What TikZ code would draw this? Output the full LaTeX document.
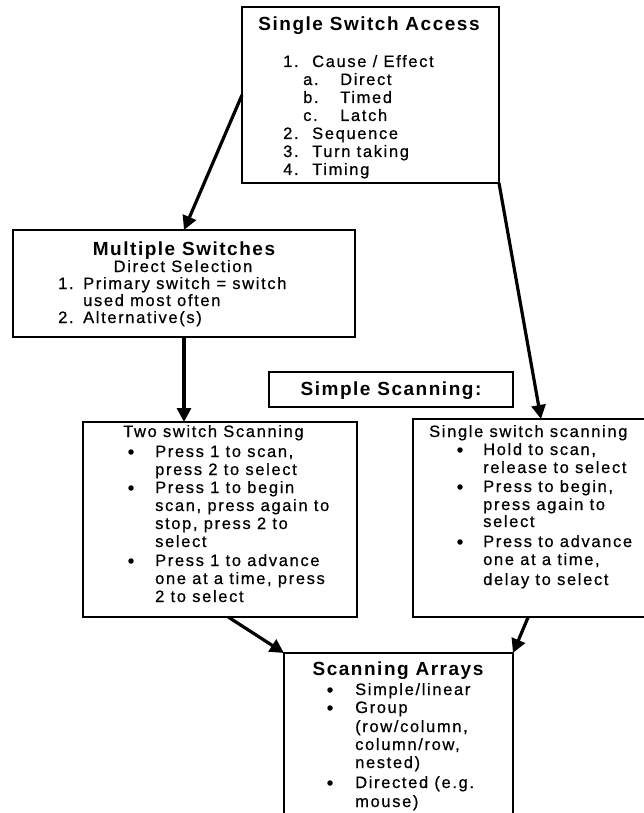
\documentclass[tikz,border=0pt]{standalone}
\usepackage{fontspec}
\usetikzlibrary{arrows.meta,calc}

\newfontfamily\bodyfont{Liberation Sans}[LetterSpace=10,FakeBold=0.6]
\newfontfamily\headfont{Liberation Sans}[LetterSpace=8]
\newcommand\bodytext{\bodyfont\fontsize{16.5}{18}\selectfont}
\newcommand\headtext{\headfont\bfseries\fontsize{19}{21}\selectfont}

\tikzset{
  box/.style={draw, line width=2.2pt, inner sep=0, outer sep=0, anchor=north west},
  body/.style={font=\bodytext, inner sep=0, anchor=base west},
  mid/.style={font=\bodytext, inner sep=0, anchor=base},
  head/.style={font=\headtext, inner sep=0, anchor=base},
  dot/.style={circle, fill, inner sep=0, minimum size=5.5pt, yshift=5pt},
  arr/.style={line width=3.2pt, -{Triangle[length=14pt,width=14pt]}}
}

\begin{document}
\begin{tikzpicture}[x=1pt,y=-1pt]
\useasboundingbox (0,0) rectangle (644,813);
\clip (0,0) rectangle (644,813);

% Single Switch Access
\node[box, minimum width=257, minimum height=176] (ssa) at (242,7) {};
\node[head] (ssat) at (369,31) {Single Switch Access};
\node[body] (ssa1n) at (283,67) {1.};
\node[body] (ssa1) at (312,67) {Cause / Effect};
\node[body] (ssaan) at (303,85) {a.};
\node[body] (ssaa) at (340,85) {Direct};
\node[body] (ssabn) at (303,103) {b.};
\node[body] (ssab) at (340,103) {Timed};
\node[body] (ssacn) at (303,121) {c.};
\node[body] (ssac) at (340,121) {Latch};
\node[body] (ssa2n) at (283,139) {2.};
\node[body] (ssa2) at (312,139) {Sequence};
\node[body] (ssa3n) at (283,157) {3.};
\node[body] (ssa3) at (312,157) {Turn taking};
\node[body] (ssa4n) at (283,175) {4.};
\node[body] (ssa4) at (312,175) {Timing};

% Multiple Switches
\node[box, minimum width=342, minimum height=107] (ms) at (13,230) {};
\node[head] (mst) at (184,255) {Multiple Switches};
\node[mid] (mss) at (183,272) {Direct Selection};
\node[body] (ms1n) at (58,289) {1.};
\node[body] (ms1) at (83,289) {Primary switch = switch};
\node[body] (ms1b) at (83,306) {used most often};
\node[body] (ms2n) at (58,323) {2.};
\node[body] (ms2) at (83,323) {Alternative(s)};

% Simple Scanning
\node[box, minimum width=244, minimum height=35] (simp) at (269,372) {};
\node[head] (simpt) at (391,395) {Simple Scanning:};

% Two switch Scanning
\node[box, minimum width=274, minimum height=195] (ts) at (83,422) {};
\node[body] (tst) at (123,437) {Two switch Scanning};
\node[dot] (tsd1) at (131,457) {};
\node[body] (ts1) at (155,457) {Press 1 to scan,};
\node[body] (ts1b) at (155,475) {press 2 to select};
\node[dot] (tsd2) at (131,493) {};
\node[body] (ts2) at (155,493) {Press 1 to begin};
\node[body] (ts2b) at (155,511) {scan, press again to};
\node[body] (ts2c) at (155,529) {stop, press 2 to};
\node[body] (ts2d) at (155,547) {select};
\node[dot] (tsd3) at (131,566) {};
\node[body] (ts3) at (155,566) {Press 1 to advance};
\node[body] (ts3b) at (155,584) {one at a time, press};
\node[body] (ts3c) at (155,602) {2 to select};

% Single switch scanning
\node[box, minimum width=256, minimum height=198] (sss) at (413,419) {};
\node[body] (ssst) at (429,437) {Single switch scanning};
\node[dot] (sssd1) at (460,455) {};
\node[body] (sss1) at (483,455) {Hold to scan,};
\node[body] (sss1b) at (483,473) {release to select};
\node[dot] (sssd2) at (460,492) {};
\node[body] (sss2) at (483,492) {Press to begin,};
\node[body] (sss2b) at (483,510) {press again to};
\node[body] (sss2c) at (483,527) {select};
\node[dot] (sssd3) at (460,547) {};
\node[body] (sss3) at (483,547) {Press to advance};
\node[body] (sss3b) at (483,565) {one at a time,};
\node[body] (sss3c) at (483,585) {delay to select};

% Scanning Arrays
\node[box, minimum width=229, minimum height=200] (sa) at (284,653) {};
\node[head] (sat) at (398,675) {Scanning Arrays};
\node[dot] (sad1) at (330,695) {};
\node[body] (sa1) at (355,695) {Simple/linear};
\node[dot] (sad2) at (330,713) {};
\node[body] (sa2) at (355,713) {Group};
\node[body] (sa2b) at (355,732) {(row/column,};
\node[body] (sa2c) at (355,750) {column/row,};
\node[body] (sa2d) at (355,768) {nested)};
\node[dot] (sad3) at (330,788) {};
\node[body] (sa3) at (355,788) {Directed (e.g.};
\node[body] (sa3b) at (355,807) {mouse)};

% arrows
\draw[arr] (ssa.west) -- (ms.north);
\draw[arr] (ssa.south east) -- (sss.north);
\draw[arr] (ms.south) -- (ms.south |- ts.north);
\draw[arr] ($(ts.south west)!0.53!(ts.south east)$) -- (sa.north west);
\draw[arr] ($(sss.south west)!0.45!(sss.south east)$) -- (sa.north east);

\end{tikzpicture}
\end{document}
